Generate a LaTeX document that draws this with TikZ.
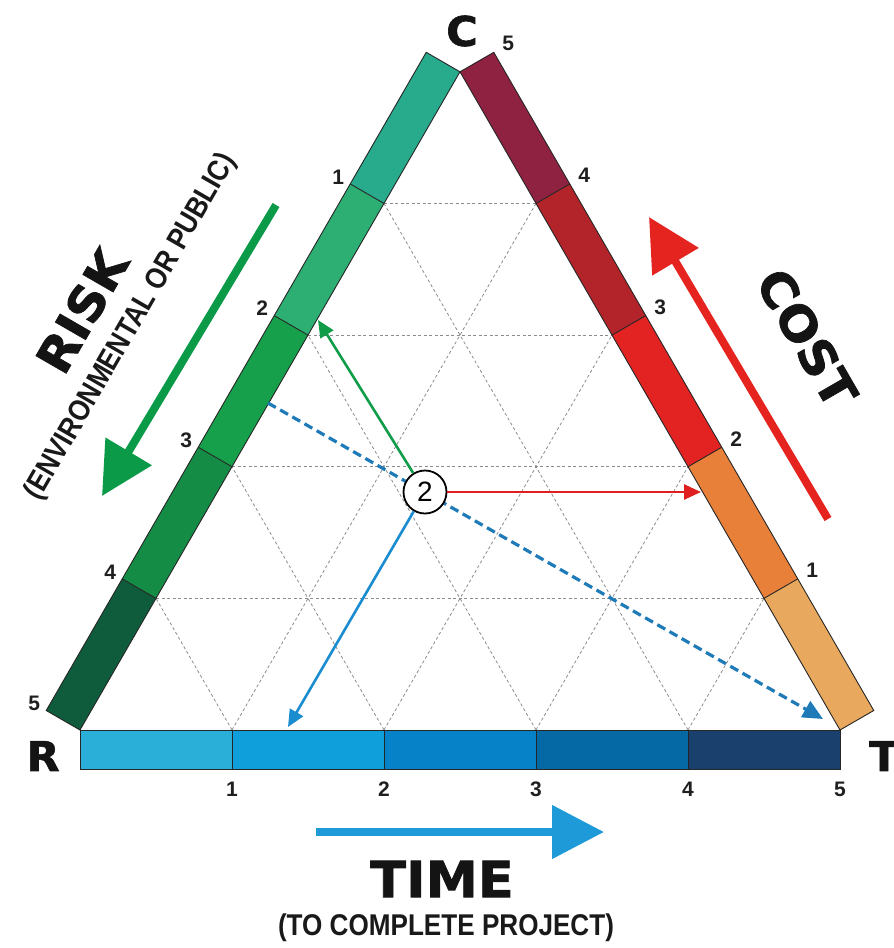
\documentclass[tikz,border=0pt]{standalone}
\usepackage{fontspec}
\setmainfont{Liberation Sans}
\newfontfamily\heavy[FakeStretch=1.05,FakeBold=1.5]{DejaVu Sans}
\newfontfamily\subfont[FakeStretch=0.87]{Liberation Sans}
\usetikzlibrary{arrows.meta,calc}
\definecolor{lg0}{HTML}{0F5C3C}
\definecolor{lg1}{HTML}{148C46}
\definecolor{lg2}{HTML}{17A04B}
\definecolor{lg3}{HTML}{2DAF73}
\definecolor{lg4}{HTML}{28AA8C}
\definecolor{rc0}{HTML}{E8A95E}
\definecolor{rc1}{HTML}{E8803A}
\definecolor{rc2}{HTML}{E32222}
\definecolor{rc3}{HTML}{B3242A}
\definecolor{rc4}{HTML}{8F2141}
\definecolor{bc0}{HTML}{2AB0D8}
\definecolor{bc1}{HTML}{0FA0DC}
\definecolor{bc2}{HTML}{0582C8}
\definecolor{bc3}{HTML}{0569A5}
\definecolor{bc4}{HTML}{1A416E}
\definecolor{riskgreen}{HTML}{0A9A48}
\definecolor{costred}{HTML}{E52420}
\definecolor{timeblue}{HTML}{1E9AD8}
\definecolor{dashblue}{HTML}{1F7AB8}
\definecolor{thinblue}{HTML}{1A8CD0}
\definecolor{thingreen}{HTML}{119C4A}
\definecolor{thinred}{HTML}{E02020}
\tikzset{
  gridline/.style={draw=black!45, line width=0.8pt, dash pattern=on 3pt off 2.5pt},
  barline/.style={draw=black!85, line width=0.9pt},
  num/.style={font=\fontsize{21}{21}\selectfont\bfseries, text=black!88, inner sep=0pt},
  corner/.style={font=\heavy\bfseries\fontsize{41}{41}\selectfont, text=black!92, inner sep=0pt},
  bigword/.style={font=\heavy\bfseries\fontsize{48}{48}\selectfont, text=black!92, inner sep=0pt},
  subword/.style={font=\subfont\bfseries\fontsize{30}{30}\selectfont, text=black!90, inner sep=0pt},
  bigarrow/.style={line width=8pt, -{Triangle[length=52pt,width=52pt]}},
  thinarrow/.style={line width=2.6pt, -{Triangle[length=17pt,width=15pt]}},
}
\begin{document}
\begin{tikzpicture}[x=1pt,y=-1pt]
\useasboundingbox (0,0) rectangle (894,948);
% corner coordinates
\foreach \k in {0,...,5} {
  \coordinate (L\k) at ({80+76*\k},{730-131.64*\k});
  \coordinate (Lo\k) at ({46.23+76*\k},{710.5-131.64*\k});
  \coordinate (R\k) at ({840-76*\k},{730-131.64*\k});
  \coordinate (Ro\k) at ({873.77-76*\k},{710.5-131.64*\k});
  \coordinate (B\k) at ({80+152*\k},730);
  \coordinate (Bo\k) at ({80+152*\k},769);
}
% grid
\foreach \k in {1,...,4} {
  \pgfmathtruncatemacro\j{5-\k}
  \draw[gridline] (L\k) -- (R\k);
  \draw[gridline] (B\k) -- (R\j);
  \draw[gridline] (B\k) -- (L\k);
}
% bars
\foreach \k/\c in {0/lg0,1/lg1,2/lg2,3/lg3,4/lg4} {
  \pgfmathtruncatemacro\kk{\k+1}
  \fill[\c] (L\k) -- (L\kk) -- (Lo\kk) -- (Lo\k) -- cycle;
}
\foreach \k/\c in {0/rc0,1/rc1,2/rc2,3/rc3,4/rc4} {
  \pgfmathtruncatemacro\kk{\k+1}
  \fill[\c] (R\k) -- (R\kk) -- (Ro\kk) -- (Ro\k) -- cycle;
}
\foreach \k/\c in {0/bc0,1/bc1,2/bc2,3/bc3,4/bc4} {
  \pgfmathtruncatemacro\kk{\k+1}
  \fill[\c] (B\k) -- (B\kk) -- (Bo\kk) -- (Bo\k) -- cycle;
}
\draw[barline] (L0) -- (L5) -- (Lo5) -- (Lo0) -- cycle;
\draw[barline] (R0) -- (R5) -- (Ro5) -- (Ro0) -- cycle;
\draw[barline] (B0) -- (B5) -- (Bo5) -- (Bo0) -- cycle;
\foreach \k in {1,...,4} {
  \draw[barline] (L\k) -- (Lo\k);
  \draw[barline] (R\k) -- (Ro\k);
  \draw[barline] (B\k) -- (Bo\k);
}
% scale numbers
\foreach \k/\t in {4/1,3/2,2/3,1/4,0/5} {
  \node[num] (ln\k) at ($(Lo\k)+(-12,-7)$) {\t};
}
\foreach \k in {1,...,5} {
  \node[num] (rn\k) at ($(Ro\k)+(14.5,-8.5)$) {\k};
  \node[num] (bn\k) at ($(Bo\k)+(0,20)$) {\k};
}
% corner letters
\node[corner] (cC) at (462,31) {C};
\node[corner] (cR) at (43,756) {R};
\node[corner] (cT) at (884,756) {T};
% axis words
\node[bigword, rotate=60] (risk) at (82,311) {RISK};
\node[subword, rotate=60] (env) at (131,327) {(ENVIRONMENTAL OR PUBLIC)};
\node[bigword, rotate=-60] (cost) at (807,338) {COST};
\node[bigword, font=\heavy\bfseries\fontsize{50}{50}\selectfont] (time) at (442,879) {TIME};
\node[subword] (timesub) at (446,928) {(TO COMPLETE PROJECT)};
% big arrows
\coordinate (riskA) at (276,205);
\coordinate (riskB) at (102,496);
\coordinate (costA) at (828,519);
\coordinate (costB) at (649,217);
\coordinate (timeA) at (316,832);
\coordinate (timeB) at (604,832);
\draw[bigarrow, riskgreen] (riskA) -- (riskB);
\draw[bigarrow, costred] (costA) -- (costB);
\draw[bigarrow, timeblue] (timeA) -- (timeB);
% dashed line
\coordinate (dS) at (268,403);
\coordinate (dE) at (823,719);
\draw[dashblue, line width=3.2pt, dash pattern=on 9pt off 5pt, -{Triangle[length=20pt,width=18pt]}] (dS) -- (dE);
% point
\node[circle, draw=black, line width=1.8pt, fill=white, minimum size=43pt, inner sep=0pt, font=\fontsize{28}{28}\selectfont] (P) at (425,492) {2};
\coordinate (gEnd) at (318,320);
\coordinate (rEnd) at (701,492);
\coordinate (bEnd) at (288,727);
\draw[thinarrow, thingreen] (P) -- (gEnd);
\draw[thinarrow, thinred] (P) -- (rEnd);
\draw[thinarrow, thinblue] (P) -- (bEnd);
\end{tikzpicture}
\end{document}
